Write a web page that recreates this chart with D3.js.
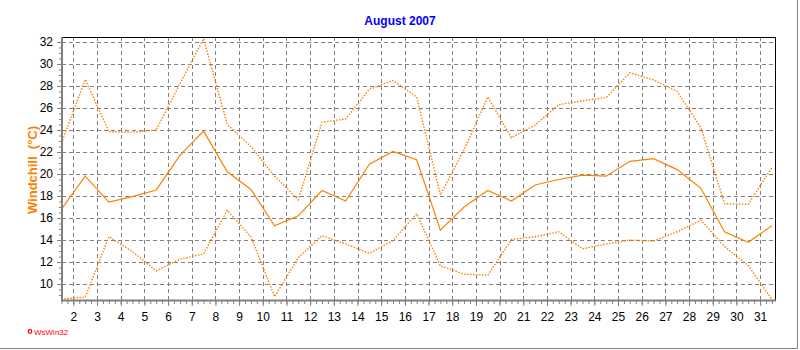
<!DOCTYPE html>
<html>
<head>
<meta charset="utf-8">
<script src="https://cdn.jsdelivr.net/npm/d3@7"></script>
<style>
  body { margin: 0; background: #fff; }
  text { font-family: "Liberation Sans", Arial, sans-serif; }
</style>
</head>
<body>
<div id="chart"></div>
<script>
// Windchill, August 2007 - daily max / mean / min
var days = d3.range(1, 32);

var windMax = [22.8, 28.6, 23.85, 23.8, 24.0, 28.2, 32.3, 24.5, 22.5, 19.8,
               17.65, 24.7, 25.0, 27.7, 28.5, 27.0, 18.1, 22.2, 27.0, 23.3,
               24.45, 26.3, 26.65, 26.95, 29.2, 28.55, 27.5, 24.2, 17.3, 17.25,
               20.6];
var windAvg = [16.8, 19.8, 17.45, 17.95, 18.55, 21.7, 23.9, 20.2, 18.6, 15.3,
               16.2, 18.5, 17.55, 20.9, 22.05, 21.3, 14.9, 17.0, 18.5, 17.55,
               19.0, 19.5, 19.9, 19.8, 21.15, 21.4, 20.4, 18.7, 14.75, 13.8,
               15.3];
var windMin = [8.65, 8.8, 14.3, 12.95, 11.2, 12.25, 12.75, 16.7, 14.3, 8.85,
               12.4, 14.4, 13.65, 12.8, 13.95, 16.4, 11.65, 10.9, 10.8, 14.05,
               14.3, 14.75, 13.2, 13.65, 14.0, 13.9, 14.75, 15.8, 13.4, 11.7,
               8.6];

var xTicks = d3.range(2, 32);
var yTicks = d3.range(10, 33, 2);

var width = 800,
    height = 350;

// plot box (note: "top" is taken by window.top)
var pLeft = 61.5, pRight = 775, pTop = 37, pBottom = 300;

var orange = "#ff8000";

var svg = d3.select("#chart").append("svg")
    .attr("width", width)
    .attr("height", height);

svg.append("rect")
    .attr("width", width)
    .attr("height", height)
    .attr("fill", "#fff");

// day d is drawn at its middle (d + 0.5)
var x = d3.scaleLinear().domain([1.5, 31.63]).range([pLeft, pRight]);
var y = d3.scaleLinear().domain([8.55, 32.45]).range([pBottom, pTop]);

// title
svg.append("text")
    .attr("x", 400)
    .attr("y", 25)
    .attr("text-anchor", "middle")
    .style("font-size", "12px")
    .style("font-weight", "bold")
    .attr("fill", "#0000ff")
    .text("August 2007");

// grid
var grid = svg.append("g")
    .attr("stroke", "#808080")
    .attr("stroke-dasharray", "4,3")
    .attr("shape-rendering", "crispEdges");

grid.selectAll("line.h")
    .data(yTicks)
  .enter().append("line")
    .attr("class", "h")
    .attr("x1", pLeft)
    .attr("x2", pRight)
    .attr("y1", function(d) { return Math.round(y(d)) + 0.5; })
    .attr("y2", function(d) { return Math.round(y(d)) + 0.5; });

grid.selectAll("line.v")
    .data(xTicks)
  .enter().append("line")
    .attr("class", "v")
    .attr("y1", pTop)
    .attr("y2", pBottom)
    .attr("x1", function(d) { return Math.round(x(d)) + 0.5; })
    .attr("x2", function(d) { return Math.round(x(d)) + 0.5; });

// series
function line(values) {
  return d3.line()
      .x(function(d, i) { return x(days[i] + 0.5); })
      .y(function(d) { return y(d); })(values);
}

svg.append("path")
    .attr("d", line(windMax))
    .attr("fill", "none")
    .attr("stroke", orange)
    .attr("stroke-width", 1.4)
    .attr("stroke-dasharray", "1.5,1.5");

svg.append("path")
    .attr("d", line(windMin))
    .attr("fill", "none")
    .attr("stroke", orange)
    .attr("stroke-width", 1.4)
    .attr("stroke-dasharray", "1.5,1.5");

svg.append("path")
    .attr("d", line(windAvg))
    .attr("fill", "none")
    .attr("stroke", orange)
    .attr("stroke-width", 1.2);

// frame: black top / right, grey axes left / bottom
svg.append("line")
    .attr("x1", 61).attr("x2", pRight + 1)
    .attr("y1", pTop + 0.5).attr("y2", pTop + 0.5)
    .attr("stroke", "#000");
svg.append("line")
    .attr("x1", pRight + 0.5).attr("x2", pRight + 0.5)
    .attr("y1", pTop).attr("y2", pBottom)
    .attr("stroke", "#000");
svg.append("line")
    .attr("x1", 62).attr("x2", 62)
    .attr("y1", pTop).attr("y2", pBottom + 1)
    .attr("stroke", "#808080")
    .attr("stroke-width", 2);
svg.append("line")
    .attr("x1", 61).attr("x2", pRight + 1)
    .attr("y1", pBottom + 0.5).attr("y2", pBottom + 0.5)
    .attr("stroke", "#808080")
    .attr("stroke-width", 2);

// x axis
var xAxis = d3.axisBottom(x)
    .tickValues(xTicks)
    .tickSize(5)
    .tickPadding(6)
    .tickFormat(d3.format("d"));

var gx = svg.append("g")
    .attr("transform", "translate(0," + (pBottom + 1) + ")")
    .call(xAxis);
gx.select(".domain").remove();
gx.selectAll("line").attr("stroke", "#808080");
gx.selectAll("text").style("font-size", "12px").attr("fill", "#000");

var gxMinor = svg.append("g")
    .attr("transform", "translate(0," + (pBottom + 1) + ")")
    .call(d3.axisBottom(x).tickValues(d3.range(1.5, 31.6, 0.25)).tickSize(3).tickFormat(""));
gxMinor.select(".domain").remove();
gxMinor.selectAll("line").attr("stroke", "#808080");

// y axis
var yAxis = d3.axisLeft(y)
    .tickValues(yTicks)
    .tickSize(4)
    .tickPadding(4)
    .tickFormat(d3.format("d"));

var gy = svg.append("g")
    .attr("transform", "translate(61,0)")
    .call(yAxis);
gy.select(".domain").remove();
gy.selectAll("line").attr("stroke", "#808080");
gy.selectAll("text").style("font-size", "12px").attr("fill", "#000");

var gyMinor = svg.append("g")
    .attr("transform", "translate(61,0)")
    .call(d3.axisLeft(y).tickValues(d3.range(9, 32.5, 0.5)).tickSize(2).tickFormat(""));
gyMinor.select(".domain").remove();
gyMinor.selectAll("line").attr("stroke", "#808080");

// y label
svg.append("text")
    .attr("transform", "translate(37,170) rotate(-90)")
    .attr("text-anchor", "middle")
    .style("font-size", "13px")
    .style("font-weight", "bold")
    .attr("fill", orange)
    .attr("xml:space", "preserve")
    .text("Windchill  (\u00b0C)");

// logo
svg.append("circle")
    .attr("cx", 30)
    .attr("cy", 331.5)
    .attr("r", 1.8)
    .attr("fill", "none")
    .attr("stroke", "#ff0000")
    .attr("stroke-width", 1.2);
svg.append("text")
    .attr("x", 34)
    .attr("y", 335)
    .style("font-size", "8px")
    .attr("fill", "#ff0000")
    .text("WsWin32");

// outer border
svg.append("path")
    .attr("d", "M" + (width - 2.5) + ",0V" + (height - 1.5) + "H0")
    .attr("fill", "none")
    .attr("stroke", "#808080");
</script>
</body>
</html>
